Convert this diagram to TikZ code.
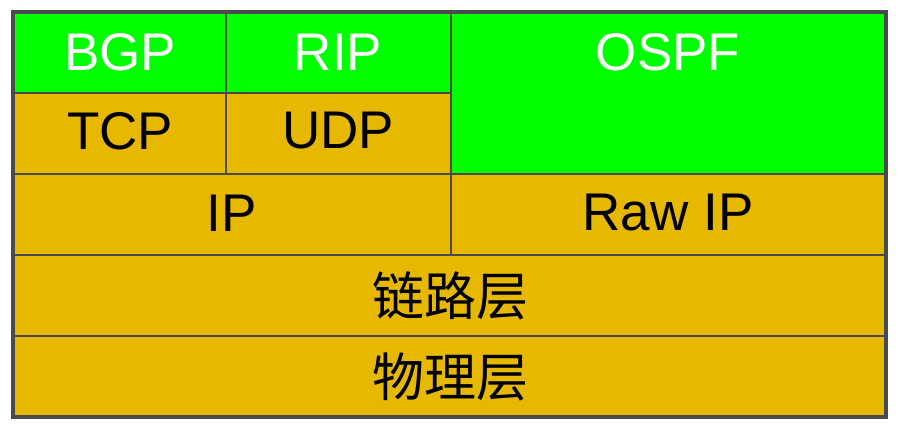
\documentclass[tikz,border=0pt]{standalone}
\usepackage{fontspec}
\setmainfont{Liberation Sans}
\newfontfamily\cjk{Noto Sans CJK SC}
\definecolor{protogreen}{HTML}{00FF00}
\definecolor{layergold}{HTML}{E6B800}
\definecolor{gridgray}{HTML}{4A4A4A}
\tikzset{
  lbl/.style={font=\fontsize{53}{60}\selectfont, text=black, inner sep=0pt},
  wlbl/.style={lbl, text=white},
  clbl/.style={font=\cjk\fontsize{52}{60}\selectfont, text=black, inner sep=0pt},
}
\begin{document}
\begin{tikzpicture}[x=1pt,y=-1pt]
  \useasboundingbox (0,0) rectangle (900,429);

  % cells
  \fill[layergold] (13,12) rectangle (886,417);
  \fill[protogreen] (13,12) rectangle (451,93);
  \fill[protogreen] (451,12) rectangle (886,174);

  % grid
  \draw[gridgray, line width=2pt] (226,12) -- (226,174);
  \draw[gridgray, line width=2pt] (451,12) -- (451,255);
  \draw[gridgray, line width=2pt] (13,93) -- (452,93);
  \draw[gridgray, line width=2pt] (13,174) -- (886,174);
  \draw[gridgray, line width=2pt] (13,255) -- (886,255);
  \draw[gridgray, line width=2pt] (13,336) -- (886,336);
  \draw[gridgray, line width=4pt] (13,12) rectangle (886,417);

  % labels
  \node[wlbl] at (120,52)  (bgp)  {BGP};
  \node[wlbl] at (338,52)  (rip)  {RIP};
  \node[wlbl] at (668,52)  (ospf) {OSPF};
  \node[lbl]  at (120,131) (tcp)  {TCP};
  \node[lbl]  at (338,131) (udp)  {UDP};
  \node[lbl]  at (232,213) (ip)   {IP};
  \node[lbl]  at (668,213) (rawip) {Raw IP};
  \node[clbl] at (450,296) (link) {链路层};
  \node[clbl] at (450,377) (phys) {物理层};
\end{tikzpicture}
\end{document}
